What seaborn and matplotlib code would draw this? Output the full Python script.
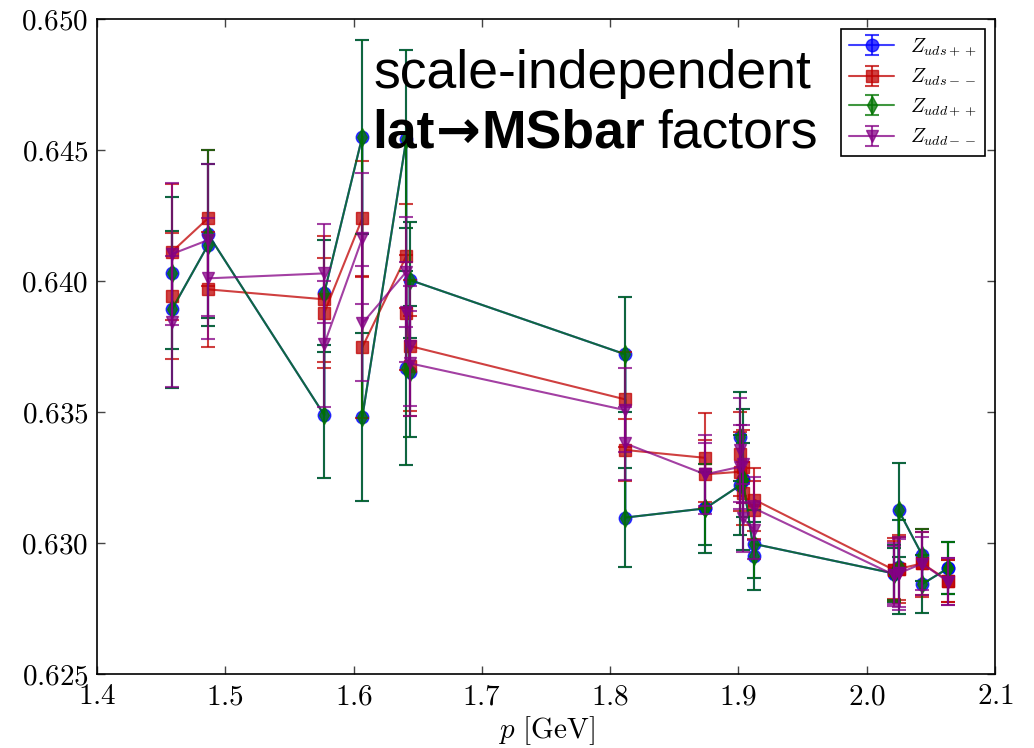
import numpy as np
import pandas as pd
import matplotlib
matplotlib.use("Agg")
import matplotlib.pyplot as plt
import seaborn as sns
from matplotlib.container import ErrorbarContainer
from matplotlib.ticker import FormatStrFormatter, MultipleLocator
from matplotlib.transforms import IdentityTransform

# momentum of each measurement, in plotting order [GeV]
p = [1.4585, 1.4585, 1.4865, 1.4865, 1.5772, 1.5772, 1.6068, 1.6068,
     1.6411, 1.6411, 1.6437, 1.6437, 1.8118, 1.8118, 1.8741, 1.8741,
     1.9015, 1.9015, 1.9035, 1.9035, 1.9125, 1.9125, 2.0209, 2.0209,
     2.0248, 2.0248, 2.0432, 2.0432, 2.0636, 2.0636]

z_uds_pp = [0.64028, 0.63891, 0.64136, 0.64178, 0.63487, 0.63954, 0.64550, 0.63479,
            0.64540, 0.63666, 0.63653, 0.64003, 0.63719, 0.63096, 0.63131, 0.63131,
            0.63220, 0.63405, 0.63242, 0.63240, 0.62950, 0.62995, 0.62883, 0.62880,
            0.62908, 0.63124, 0.62953, 0.62842, 0.62903, 0.62903]
err_uds_pp = [0.0029, 0.0030, 0.0031, 0.0032, 0.0024, 0.0020, 0.0037, 0.0032,
              0.0034, 0.0037, 0.0025, 0.0022, 0.0022, 0.0019, 0.0017, 0.0014,
              0.0019, 0.0017, 0.0027, 0.0014, 0.0013, 0.0013, 0.0011, 0.0010,
              0.0018, 0.0018, 0.0010, 0.0011, 0.0010, 0.0010]

z_uds_mm = [0.63943, 0.64111, 0.64238, 0.63967, 0.63929, 0.63878, 0.64238, 0.63746,
            0.64094, 0.63878, 0.63674, 0.63751, 0.63547, 0.63354, 0.63324, 0.63261,
            0.63271, 0.63339, 0.63290, 0.63189, 0.63126, 0.63164, 0.62897, 0.62897,
            0.62900, 0.62900, 0.62921, 0.62921, 0.62855, 0.62855]
err_uds_mm = [0.0024, 0.0026, 0.0026, 0.0022, 0.0024, 0.0021, 0.0022, 0.0027,
              0.0020, 0.0022, 0.0019, 0.0025, 0.0018, 0.0012, 0.0017, 0.0013,
              0.0015, 0.0016, 0.0014, 0.0012, 0.0011, 0.0012, 0.0011, 0.0012,
              0.0012, 0.0013, 0.0012, 0.0013, 0.0008, 0.0008]

z_udd_pp = list(z_uds_pp)
err_udd_pp = list(err_uds_pp)

z_udd_mm = [0.63844, 0.64102, 0.64155, 0.64009, 0.64028, 0.63758, 0.64162, 0.63837,
            0.64034, 0.63880, 0.63750, 0.63685, 0.63506, 0.63379, 0.63261, 0.63261,
            0.63290, 0.63354, 0.63300, 0.63093, 0.63048, 0.63131, 0.62878, 0.62878,
            0.62883, 0.62883, 0.62920, 0.62920, 0.62851, 0.62851]
err_udd_mm = [0.0025, 0.0027, 0.0029, 0.0023, 0.0019, 0.0024, 0.0025, 0.0022,
              0.0021, 0.0019, 0.0023, 0.0020, 0.0016, 0.0014, 0.0015, 0.0012,
              0.0016, 0.0020, 0.0015, 0.0013, 0.0011, 0.0012, 0.0011, 0.0012,
              0.0013, 0.0014, 0.0012, 0.0010, 0.0009, 0.0009]

labels = [r"$Z_{uds++}$", r"$Z_{uds--}$", r"$Z_{udd++}$", r"$Z_{udd--}$"]
colors = ["#0000ff", "#c00000", "#007400", "#840084"]
markers = ["o", "s", "d", "v"]
sizes = [9, 8, 9, 9]

sns.set_style("ticks", {"xtick.direction": "in", "ytick.direction": "in",
                        "xtick.top": True, "ytick.right": True,
                        "axes.edgecolor": "black", "text.color": "black",
                        "axes.labelcolor": "black",
                        "xtick.color": "black", "ytick.color": "black"})
plt.rcParams["mathtext.fontset"] = "cm"
plt.rcParams["font.family"] = ["DejaVu Serif"]

fig = plt.figure(figsize=(10.34, 7.48), dpi=100)
ax = fig.add_axes([0.0938, 0.0993, 0.8685, 0.8757])

alpha = 0.75
handles = []
for label, ys, es, c, m, ms in zip(labels,
                                    [z_uds_pp, z_uds_mm, z_udd_pp, z_udd_mm],
                                    [err_uds_pp, err_uds_mm, err_udd_pp, err_udd_mm],
                                    colors, markers, sizes):
    df = pd.DataFrame({"p": p, "z": ys})
    sns.lineplot(data=df, x="p", y="z", sort=False, estimator=None, ax=ax,
                 color=c, marker=m, markersize=ms, markeredgecolor=c,
                 markeredgewidth=1.0, linewidth=1.5, alpha=alpha, legend=False)
    line = ax.lines[-1]
    eb = ax.errorbar(p, ys, yerr=es, fmt="none", ecolor=c, elinewidth=1.5,
                     capsize=5, capthick=1.5, alpha=alpha)
    handles.append(ErrorbarContainer((line, eb.lines[1], eb.lines[2]),
                                     has_xerr=False, has_yerr=True, label=label))

ax.set_xlim(1.4, 2.1)
ax.set_ylim(0.625, 0.650)
ax.xaxis.set_major_locator(MultipleLocator(0.1))
ax.yaxis.set_major_locator(MultipleLocator(0.005))
ax.xaxis.set_major_formatter(FormatStrFormatter(r"$%.1f$"))
ax.yaxis.set_major_formatter(FormatStrFormatter(r"$%.3f$"))
ax.tick_params(axis="both", which="major", labelsize=21, length=6, width=1,
               color="#444444", labelcolor="black", pad=6)
for s in ax.spines.values():
    s.set_linewidth(1.2)
    s.set_color("black")
ax.set_xlabel(r"$p\ [\mathrm{GeV}]$", fontsize=21, labelpad=3, color="black")
ax.set_ylabel("")

leg = ax.legend(handles=handles, loc="upper right", numpoints=1, fontsize=14.5,
                frameon=True, fancybox=False, framealpha=1, edgecolor="black",
                handlelength=2.2, labelspacing=0.42, borderpad=0.4)
leg.get_frame().set_linewidth(1.2)

# two-line caption; second line mixes bold and regular weights
sans = ["Liberation Sans", "DejaVu Sans"]
fs = 38.5
W, H = 1034.0, 748.0
fig.text(592 / W, 1 - 88 / H, "scale-independent", ha="center", va="baseline",
         fontsize=fs, family=sans, color="black")
base2 = H - 148
renderer = fig.canvas.get_renderer()
fig.text(657, base2, "factors", ha="left", va="baseline", fontsize=fs,
         family=sans, color="black", transform=IdentityTransform())
right = 645
for piece, fam in [("MSbar", sans), ("\u2192", ["DejaVu Sans"]), ("lat", sans)]:
    t = fig.text(right, base2, piece, ha="right", va="baseline", fontsize=fs,
                 family=fam, weight="bold", color="black",
                 transform=IdentityTransform())
    right = t.get_window_extent(renderer).x0 - 1

fig.savefig("out.png", dpi=100)
